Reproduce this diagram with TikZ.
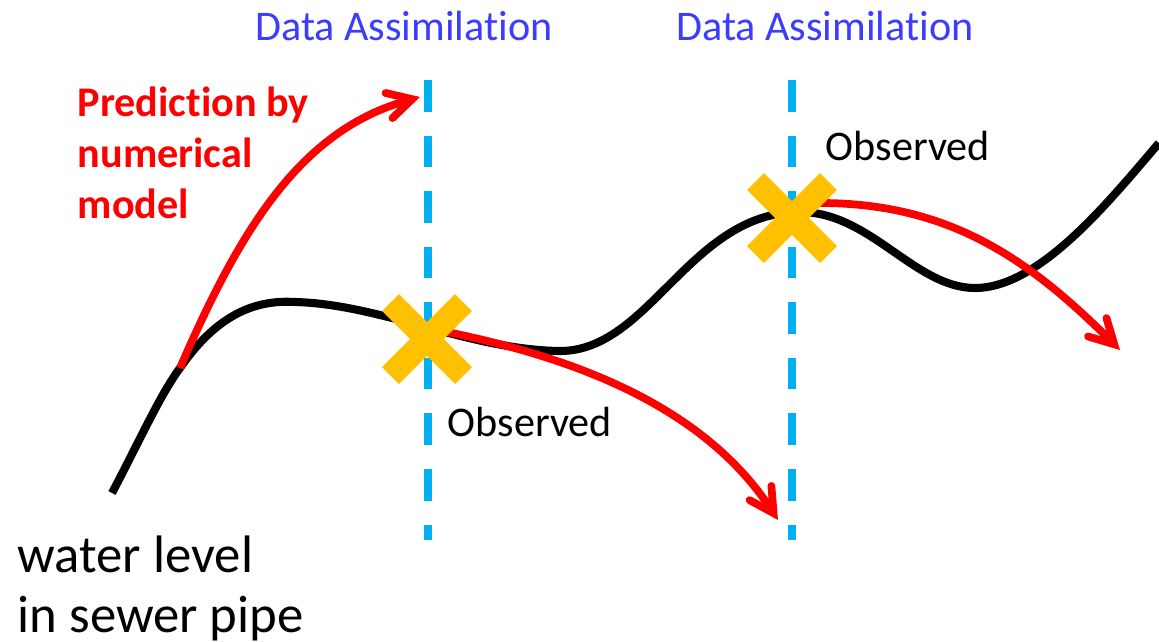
\documentclass[tikz,border=0pt]{standalone}
\usepackage{fontspec}
\setmainfont{Carlito}[Ligatures={NoCommon}]
\usepackage{tikz}
\usetikzlibrary{arrows.meta}
\usepackage{xcolor}
\definecolor{dablue}{RGB}{60,60,255}
\definecolor{linecyan}{RGB}{0,176,240}
\definecolor{crossorange}{RGB}{255,192,0}

\begin{document}
\begin{tikzpicture}[x=0.01cm,y=-0.01cm,
  level/.style={line width=2.3pt,black},
  predarrow/.style={line width=2.2pt,red,-{Straight Barb[length=2.4mm,width=2.6mm,line cap=round]}},
  daline/.style={line width=2.3pt,linecyan,dash pattern=on 9pt off 6.8pt},
  obscross/.style={line width=0.24cm,crossorange}]
\useasboundingbox (0,0) rectangle (1159,642);
% points on the water level curve
\coordinate (lstart) at (112,493);
\coordinate (branch) at (180,368);
\coordinate (ob1) at (427,339);
\coordinate (ob2) at (792,218);
% water level
\draw[style=level] (lstart) .. controls (140,440) and (160,395) .. (branch)
  .. controls (220,310) and (260,300) .. (295,302)
  .. controls (380,304) and (470,350) .. (560,351)
  .. controls (650,351) and (690,212) .. (800,212)
  .. controls (870,212) and (915,288) .. (975,288)
  .. controls (1040,288) and (1110,200) .. (1159,143);
% assimilation times
\coordinate (da1top) at (428,80);
\coordinate (da1bot) at (428,540);
\coordinate (da2top) at (792,80);
\coordinate (da2bot) at (792,540);
\draw[style=daline] (da1top)--(da1bot);
\draw[style=daline] (da2top)--(da2bot);
% predictions
\coordinate (p1end) at (420,97);
\coordinate (p2start) at (447,332);
\coordinate (p2end) at (778,520);
\coordinate (p3start) at (820,203);
\coordinate (p3end) at (1120,350);
\draw[style=predarrow] (branch) .. controls (240,230) and (300,130) .. (p1end);
\draw[style=predarrow] (p2start) .. controls (560,355) and (700,400) .. (p2end);
\draw[style=predarrow] (p3start) .. controls (950,203) and (1030,260) .. (p3end);
% observations
\foreach \o in {ob1,ob2}{
  \draw[style=obscross] ([shift={(-36.5,-36.5)}]\o)--([shift={(36.5,36.5)}]\o);
  \draw[style=obscross] ([shift={(-36.5,36.5)}]\o)--([shift={(36.5,-36.5)}]\o);
}
% labels
\node[anchor=base,inner sep=0,text=dablue,font=\fontsize{12}{14}\selectfont] (da1) at (404,40){Data Assimilation};
\node[anchor=base,inner sep=0,text=dablue,font=\fontsize{12}{14}\selectfont] (da2) at (825,40){Data Assimilation};
\node[anchor=base west,inner sep=0,font=\fontsize{12}{14}\selectfont] (obs1) at (447,436){Observed};
\node[anchor=base west,inner sep=0,font=\fontsize{12}{14}\selectfont] (obs2) at (825,160){Observed};
\node[anchor=north west,inner sep=0,align=left,text=red,font=\bfseries\fontsize{12}{14.5}\selectfont] (pred) at (77,86){Prediction by\\numerical\\model};
\node[anchor=north west,inner sep=0,align=left,font=\fontsize{15}{17}\selectfont] (wl) at (17,535){water level\\in sewer pipe};
\end{tikzpicture}
\end{document}
